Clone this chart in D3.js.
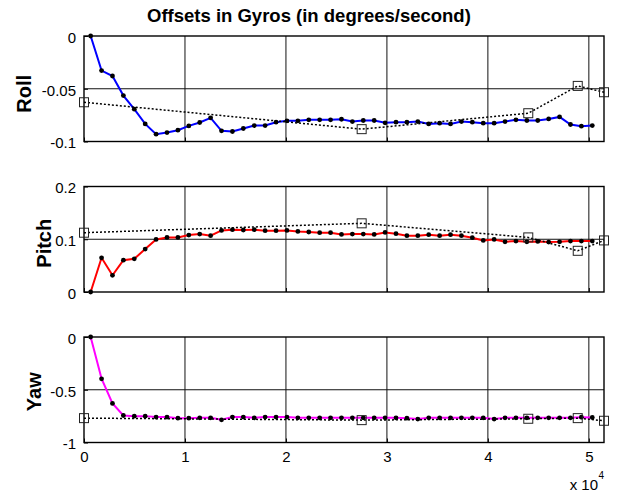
<!DOCTYPE html>
<html>
<head>
<meta charset="utf-8">
<script src="https://cdn.jsdelivr.net/npm/d3@7"></script>
<style>
  html, body { margin: 0; padding: 0; background: #fff; }
  svg { display: block; }
  text { font-family: Arial, "Liberation Sans", Helvetica, sans-serif; fill: #000; }
</style>
</head>
<body>
<svg id="chart" width="617" height="494"></svg>
<script>
// Sample times (s) of the running gyro-offset estimate
const sampleTimes = [660, 1740, 2820, 3900, 4980, 6060, 7140, 8220, 9300, 10380,
  11460, 12540, 13620, 14700, 15780, 16860, 17940, 19020, 20100, 21180,
  22260, 23340, 24420, 25500, 26580, 27660, 28740, 29820, 30900, 31980,
  33060, 34140, 35220, 36300, 37380, 38460, 39540, 40620, 41700, 42780,
  43860, 44940, 46020, 47100, 48180, 49260, 50340];

const rollEst = [0, -0.0328, -0.0379, -0.0565, -0.0694, -0.0833, -0.0931, -0.0915, -0.0893, -0.0852,
  -0.0820, -0.0776, -0.0899, -0.0905, -0.0877, -0.0849, -0.0849, -0.0817, -0.0804, -0.0804,
  -0.0795, -0.0795, -0.0795, -0.0789, -0.0811, -0.0801, -0.0801, -0.0823, -0.0817, -0.0817,
  -0.0811, -0.0833, -0.0826, -0.0833, -0.0811, -0.0817, -0.0826, -0.0826, -0.0811, -0.0795,
  -0.0801, -0.0801, -0.0786, -0.0767, -0.0839, -0.0855, -0.0849];

const pitchEst = [0, 0.0648, 0.0317, 0.0603, 0.0629, 0.0813, 0.0997, 0.1035, 0.1035, 0.1079,
  0.1098, 0.1067, 0.1168, 0.1181, 0.1175, 0.1181, 0.1162, 0.1162, 0.1168, 0.1149,
  0.1137, 0.1124, 0.1124, 0.1092, 0.1098, 0.1098, 0.1092, 0.1130, 0.1105, 0.1067,
  0.1067, 0.1086, 0.1067, 0.1086, 0.1067, 0.1029, 0.0978, 0.0997, 0.0952, 0.0965,
  0.0952, 0.0959, 0.0946, 0.0952, 0.0965, 0.0965, 0.0965];

const yawEst = [0, -0.396, -0.630, -0.744, -0.750, -0.750, -0.759, -0.759, -0.769, -0.769,
  -0.766, -0.766, -0.785, -0.759, -0.759, -0.766, -0.759, -0.759, -0.759, -0.766,
  -0.766, -0.766, -0.766, -0.766, -0.766, -0.766, -0.766, -0.766, -0.766, -0.769,
  -0.778, -0.766, -0.766, -0.766, -0.766, -0.766, -0.766, -0.778, -0.766, -0.766,
  -0.766, -0.766, -0.766, -0.766, -0.766, -0.760, -0.763];

// Reference offsets from the calibration runs
const refTimes = [0, 27500, 44000, 48900, 51500];
const rollRef  = [-0.0628, -0.0883, -0.0732, -0.0473, -0.0533];
const pitchRef = [0.1124, 0.1302, 0.1035, 0.0781, 0.0978];
const yawRef   = [-0.769, -0.788, -0.775, -0.769, -0.794];

// Axis ticks and labels
const xTicks = [0, 10000, 20000, 30000, 40000, 50000];
const xTickLabels = ["0", "1", "2", "3", "4", "5"];
const rollTicks = [-0.1, -0.05, 0], rollTickLabels = ["-0.1", "-0.05", "0"];
const pitchTicks = [0, 0.1, 0.2], pitchTickLabels = ["0", "0.1", "0.2"];
const yawTicks = [-1, -0.5, 0], yawTickLabels = ["-1", "-0.5", "0"];

const titleText = "Offsets in Gyros (in degrees/second)";

const panels = [
  { name: "Roll",  est: rollEst,  ref: rollRef,  domain: [-0.1, 0], ticks: rollTicks,  labels: rollTickLabels,  color: "#0000ff", top: 36,    labelX: 31, labelDy: 5 },
  { name: "Pitch", est: pitchEst, ref: pitchRef, domain: [0, 0.2],  ticks: pitchTicks, labels: pitchTickLabels, color: "#ff0000", top: 186.5, labelX: 51, labelDy: 4 },
  { name: "Yaw",   est: yawEst,   ref: yawRef,   domain: [-1, 0],   ticks: yawTicks,   labels: yawTickLabels,   color: "#ff00ff", top: 337,   labelX: 41, labelDy: 2 }
];

const svg = d3.select("#chart");
const left = 84, right = 604, panelH = 105.5;
const x = d3.scaleLinear().domain([0, 51500]).range([left, right]);

svg.append("rect").attr("width", 617).attr("height", 494).attr("fill", "#fff");

svg.append("text")
  .attr("x", 147).attr("y", 21.5)
  .attr("font-size", "18.5px").attr("font-weight", "bold")
  .text(titleText);

panels.forEach((p, pi) => {
  const y = d3.scaleLinear().domain(p.domain).range([p.top + panelH, p.top]);
  const g = svg.append("g");

  // grid
  g.selectAll("line.vgrid").data(xTicks.slice(1)).enter().append("line")
    .attr("x1", d => x(d)).attr("x2", d => x(d))
    .attr("y1", p.top).attr("y2", p.top + panelH)
    .attr("stroke", "#111").attr("stroke-width", 1);
  g.selectAll("line.hgrid").data(p.ticks.slice(1, -1)).enter().append("line")
    .attr("x1", left).attr("x2", right)
    .attr("y1", d => y(d)).attr("y2", d => y(d))
    .attr("stroke", "#111").attr("stroke-width", 1);

  // y axis with inward ticks
  const yAxis = d3.axisLeft(y).tickValues(p.ticks)
    .tickFormat((d, i) => p.labels[i]).tickSizeInner(-4).tickSizeOuter(0).tickPadding(8);
  const ya = g.append("g").attr("transform", `translate(${left},0)`).call(yAxis);
  ya.select(".domain").remove();
  ya.selectAll("text").attr("font-size", "15px").attr("font-family", "Arial, 'Liberation Sans', sans-serif").attr("dy", "0.42em");
  ya.selectAll("line").attr("stroke", "#000");

  // x axis ticks (labels only on the bottom panel)
  const xAxis = d3.axisBottom(x).tickValues(xTicks)
    .tickFormat((d, i) => pi === 2 ? xTickLabels[i] : "").tickSizeInner(-4).tickSizeOuter(0).tickPadding(9);
  const xa = g.append("g").attr("transform", `translate(0,${p.top + panelH})`).call(xAxis);
  xa.select(".domain").remove();
  xa.selectAll("text").attr("font-size", "15px").attr("font-family", "Arial, 'Liberation Sans', sans-serif");
  xa.selectAll("line").attr("stroke", "#000");

  // frame
  g.append("rect").attr("x", left).attr("y", p.top)
    .attr("width", right - left).attr("height", panelH)
    .attr("fill", "none").attr("stroke", "#000").attr("stroke-width", 1.4);

  // running estimate
  const line = d3.line().x((d, i) => x(sampleTimes[i])).y(d => y(d));
  g.append("path").datum(p.est).attr("d", line)
    .attr("fill", "none").attr("stroke", p.color).attr("stroke-width", 2);
  g.selectAll("circle.pt").data(p.est).enter().append("circle")
    .attr("cx", (d, i) => x(sampleTimes[i])).attr("cy", d => y(d)).attr("r", 2.4)
    .attr("fill", "#000");

  // reference offsets
  const refLine = d3.line().x((d, i) => x(refTimes[i])).y(d => y(d));
  g.append("path").datum(p.ref).attr("d", refLine)
    .attr("fill", "none").attr("stroke", "#000").attr("stroke-width", 1.5)
    .attr("stroke-dasharray", "2,2");
  g.selectAll("rect.sq").data(p.ref).enter().append("rect")
    .attr("x", (d, i) => x(refTimes[i]) - 4.5).attr("y", d => y(d) - 4.5)
    .attr("width", 9).attr("height", 9)
    .attr("fill", "none").attr("stroke", "#222").attr("stroke-width", 1);

  // y label
  svg.append("text")
    .attr("transform", `translate(${p.labelX},${p.top + panelH / 2 + p.labelDy}) rotate(-90)`)
    .attr("text-anchor", "middle")
    .attr("font-size", "20px").attr("font-weight", "bold")
    .text(p.name);
});

// exponent of the x axis
const ex = svg.append("text").attr("x", 598).attr("y", 490).attr("text-anchor", "end").attr("font-size", "15px");
ex.text("x 10");
svg.append("text").attr("x", 598.5).attr("y", 479).attr("font-size", "10px").text("4");
</script>
</body>
</html>
